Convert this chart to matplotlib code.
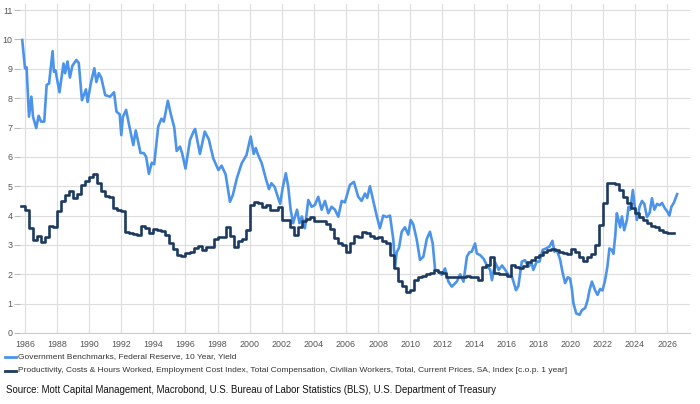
import numpy as np
import matplotlib
matplotlib.use("Agg")
import matplotlib.pyplot as plt

plt.rcParams['font.family'] = ['Liberation Sans', 'DejaVu Sans']

# ---- data ----
yield_years = [1985.83, 1986.0, 1986.1, 1986.25, 1986.4, 1986.5, 1986.7, 1986.85, 1987.0, 1987.2,
               1987.35, 1987.5, 1987.72, 1987.8, 1987.9, 1988.15, 1988.4, 1988.5, 1988.65, 1988.8,
               1988.95, 1989.2, 1989.35, 1989.55, 1989.8, 1989.9, 1990.1, 1990.32, 1990.45, 1990.6,
               1990.75, 1991.0, 1991.3, 1991.55, 1991.7, 1991.9, 1992.0, 1992.1, 1992.3, 1992.5,
               1992.75, 1992.9, 1993.2, 1993.4, 1993.55, 1993.72, 1993.9, 1994.05, 1994.3, 1994.5,
               1994.65, 1994.9, 1995.1, 1995.3, 1995.45, 1995.66, 1995.8, 1996.0, 1996.28, 1996.5,
               1996.6, 1996.9, 1997.2, 1997.45, 1997.73, 1998.05, 1998.25, 1998.5, 1998.77, 1998.95,
               1999.2, 1999.5, 1999.8, 2000.06, 2000.25, 2000.38, 2000.5, 2000.75, 2001.0, 2001.2,
               2001.35, 2001.55, 2001.78, 2001.9, 2002.05, 2002.25, 2002.4, 2002.55, 2002.7, 2002.95,
               2003.1, 2003.25, 2003.44, 2003.65, 2003.86, 2004.06, 2004.27, 2004.48, 2004.69, 2004.9,
               2005.1, 2005.31, 2005.52, 2005.73, 2005.93, 2006.24, 2006.49, 2006.76, 2006.97, 2007.18,
               2007.32, 2007.49, 2007.7, 2007.9, 2008.11, 2008.32, 2008.53, 2008.74, 2008.95, 2009.05,
               2009.16, 2009.3, 2009.47, 2009.67, 2009.88, 2010.03, 2010.19, 2010.4, 2010.61, 2010.82,
               2011.03, 2011.23, 2011.4, 2011.55, 2011.75, 2011.96, 2012.17, 2012.38, 2012.59, 2012.9,
               2013.11, 2013.32, 2013.53, 2013.69, 2013.83, 2014.04, 2014.15, 2014.36, 2014.57, 2014.78,
               2014.98, 2015.09, 2015.3, 2015.51, 2015.72, 2015.92, 2016.13, 2016.34, 2016.59, 2016.74,
               2016.95, 2017.15, 2017.36, 2017.57, 2017.67, 2017.88, 2018.05, 2018.25, 2018.46, 2018.67,
               2018.86, 2018.98, 2019.13, 2019.34, 2019.48, 2019.65, 2019.82, 2019.96, 2020.07, 2020.17,
               2020.34, 2020.55, 2020.7, 2020.9, 2021.05, 2021.17, 2021.32, 2021.52, 2021.67, 2021.83,
               2021.98, 2022.14, 2022.28, 2022.41, 2022.56, 2022.66, 2022.77, 2022.87, 2022.98, 2023.08,
               2023.19, 2023.33, 2023.5, 2023.6, 2023.71, 2023.87, 2023.96, 2024.12, 2024.29, 2024.44,
               2024.58, 2024.75, 2024.92, 2025.06, 2025.21, 2025.38, 2025.54, 2025.69, 2025.86, 2026.0,
               2026.15, 2026.27, 2026.42, 2026.63]
yield_vals = [9.98, 9.02, 9.05, 7.37, 8.05, 7.37, 6.98, 7.4, 7.2, 7.2,
              8.45, 8.5, 9.6, 8.9, 8.95, 8.2, 9.18, 8.85, 9.25, 8.7,
              9.1, 9.3, 9.2, 7.93, 8.3, 7.87, 8.5, 9.02, 8.55, 8.85,
              8.7, 8.1, 8.05, 8.2, 7.54, 7.45, 6.74, 7.36, 7.6, 7.05,
              6.4, 6.9, 6.13, 6.13, 6.0, 5.42, 5.8, 5.75, 7.03, 7.3,
              7.2, 7.91, 7.42, 7.0, 6.2, 6.35, 6.1, 5.6, 6.57, 6.86,
              6.95, 6.1, 6.86, 6.6, 5.95, 5.55, 5.7, 5.4, 4.47, 4.7,
              5.27, 5.78, 6.06, 6.69, 6.1, 6.3, 6.1, 5.78, 5.27, 4.9,
              5.1, 4.98, 4.59, 4.4, 4.93, 5.44, 4.98, 4.2, 3.74, 4.2,
              3.74, 3.97, 3.57, 4.53, 4.3, 4.36, 4.64, 4.2, 4.5, 4.08,
              4.3, 4.2, 3.96, 4.5, 4.45, 5.04, 5.15, 4.64, 4.5, 4.75,
              4.6, 5.0, 4.5, 4.02, 3.57, 4.0, 3.95, 4.0, 3.17, 2.26,
              2.75, 2.9, 3.45, 3.6, 3.35, 3.85, 3.7, 3.2, 2.49, 2.6,
              3.2, 3.45, 3.05, 2.15, 2.1, 1.98, 2.2, 1.75, 1.58, 1.75,
              2.0, 1.75, 2.6, 2.75, 2.77, 3.05, 2.71, 2.65, 2.53, 2.3,
              2.15, 1.8, 2.4, 2.15, 2.3, 2.15, 1.97, 1.92, 1.46, 1.6,
              2.43, 2.48, 2.26, 2.37, 2.15, 2.43, 2.43, 2.83, 2.88, 2.94,
              3.14, 2.77, 2.83, 2.5, 2.09, 1.7, 1.9, 1.85, 1.5, 1.01,
              0.67, 0.62, 0.78, 0.85, 1.12, 1.46, 1.75, 1.45, 1.3, 1.5,
              1.45, 1.8, 2.25, 2.88, 2.83, 2.7, 3.3, 4.08, 3.85, 3.6,
              3.97, 3.5, 3.85, 4.3, 4.2, 4.87, 4.43, 3.85, 4.3, 4.5,
              4.4, 3.95, 4.1, 4.59, 4.2, 4.4, 4.35, 4.43, 4.25, 4.15,
              4.0, 4.3, 4.43, 4.73]

eci_start = 1985.75
eci_vals = [4.33,
            4.2, 3.57, 3.17, 3.3,
            3.11, 3.26, 3.64, 3.62,
            4.17, 4.5, 4.7, 4.84,
            4.59, 4.73, 5.04, 5.18,
            5.3, 5.42, 5.1, 4.85,
            4.67, 4.62, 4.25, 4.2,
            4.17, 3.45, 3.42, 3.38,
            3.35, 3.64, 3.58, 3.42,
            3.55, 3.5, 3.47, 3.34,
            3.05, 2.85, 2.66, 2.62,
            2.74, 2.77, 2.89, 2.97,
            2.83, 2.94, 2.94, 3.2,
            3.28, 3.28, 3.62, 3.3,
            2.94, 3.12, 3.2, 3.51,
            4.36, 4.47, 4.42, 4.28,
            4.36, 4.2, 4.19, 4.28,
            3.85, 3.85, 3.6, 3.34,
            3.6, 3.8, 3.9, 3.96,
            3.82, 3.8, 3.8, 3.72,
            3.55, 3.25, 3.05, 3.0,
            2.77, 3.08, 3.3, 3.28,
            3.45, 3.42, 3.3, 3.25,
            3.28, 3.15, 3.05, 2.65,
            2.2, 1.78, 1.6, 1.41,
            1.45, 1.8, 1.92, 1.93,
            2.0, 2.03, 2.15, 2.08,
            2.03, 1.92, 1.9, 1.9,
            1.9, 1.9, 1.94, 1.92,
            1.92, 1.8, 2.26, 2.3,
            2.58, 2.03, 2.01, 2.01,
            1.95, 2.31, 2.26, 2.23,
            2.28, 2.43, 2.5, 2.58,
            2.65, 2.77, 2.83, 2.85,
            2.83, 2.77, 2.74, 2.69,
            2.85, 2.77, 2.58, 2.46,
            2.58, 2.7, 3.0, 3.68,
            4.42, 5.1, 5.12, 5.08,
            4.87, 4.64, 4.42, 4.25,
            4.08, 3.95, 3.85, 3.74,
            3.64, 3.6, 3.5, 3.45,
            3.42, 3.39]

year_ticks = list(range(1986, 2027, 2))
value_ticks = list(range(0, 12))

label_yield = "Government Benchmarks, Federal Reserve, 10 Year, Yield"
label_eci = ("Productivity, Costs & Hours Worked, Employment Cost Index, Total Compensation, "
             "Civilian Workers, Total, Current Prices, SA, Index [c.o.p. 1 year]")
source_text = ("Source: Mott Capital Management, Macrobond, U.S. Bureau of Labor Statistics (BLS), "
               "U.S. Department of Treasury")

# ---- figure ----
W, H = 700, 404
fig = plt.figure(figsize=(W / 100, H / 100), dpi=100)
ax = fig.add_axes([20 / W, (H - 333) / H, 670 / W, (333 - 4.2) / H])

blue = "#4C93EA"
navy = "#1D3A60"

eci_x = eci_start + 0.25 * np.arange(len(eci_vals))
eci_x_ext = np.append(eci_x, eci_x[-1] + 0.17)
eci_y_ext = np.append(eci_vals, eci_vals[-1])

ax.plot(yield_years, yield_vals, color=blue, lw=1.9, solid_joinstyle='round', zorder=3)
ax.plot(eci_x_ext, eci_y_ext, color=navy, lw=1.9, drawstyle='steps-post', zorder=4)

ax.set_xlim(1985.69, 2027.43)
ax.set_ylim(0, 11.2)
ax.set_xticks(year_ticks)
ax.set_xticklabels([str(y) for y in year_ticks])
ax.set_yticks(value_ticks)
ax.set_yticklabels([str(v) for v in value_ticks])

ax.grid(True, color="#dddddd", lw=0.8)
ax.set_axisbelow(True)
for s in ["top", "right", "left"]:
    ax.spines[s].set_visible(False)
ax.spines["bottom"].set_color("#cccccc")
ax.spines["bottom"].set_linewidth(0.8)
ax.tick_params(axis='x', length=0, pad=5, labelsize=6.4, labelcolor="#555555")
ax.tick_params(axis='y', length=4, width=0.8, color="#bbbbbb", pad=1.5,
               labelsize=6.4, labelcolor="#555555")

# legend below
fig.lines.append(plt.Line2D([5 / W, 16 / W], [1 - 357 / H] * 2, color=blue, lw=2.0,
                            transform=fig.transFigure))
fig.lines.append(plt.Line2D([5 / W, 16 / W], [1 - 371 / H] * 2, color=navy, lw=2.0,
                            transform=fig.transFigure))
fig.text(18 / W, 1 - 357 / H, label_yield, fontsize=6.0, color="#333333", va='center', ha='left')
fig.text(18 / W, 1 - 371 / H, label_eci, fontsize=6.0, color="#333333", va='center', ha='left')
fig.text(6 / W, 1 - 390 / H, source_text, fontsize=6.97, color="#111111", va='center', ha='left')

fig.savefig("out.png", dpi=100)
